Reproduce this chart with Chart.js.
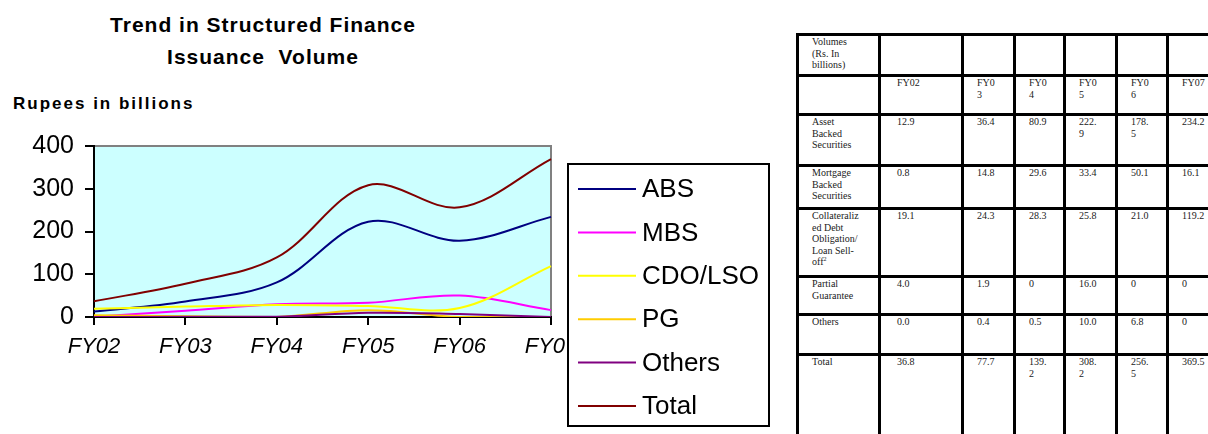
<!DOCTYPE html>
<html>
<head>
<meta charset="utf-8">
<script src="https://cdn.jsdelivr.net/npm/chart.js@4/dist/chart.umd.min.js"></script>
<style>
  html, body { margin: 0; padding: 0; background: #fff; width: 1208px; height: 434px; overflow: hidden; position: relative; }
  #title { position: absolute; left: 63px; top: 9px; width: 400px; text-align: center; font: bold 21px "Liberation Sans", Arial, sans-serif; letter-spacing: 1px; line-height: 32px; white-space: pre; color: #000; }
  #unit { position: absolute; left: 13px; top: 94px; font: bold 17px "Liberation Sans", Arial, sans-serif; letter-spacing: 2px; color: #000; }
  #chart { position: absolute; left: 0; top: 120px; }
  .cell { position: absolute; box-sizing: border-box; border: 3px solid #000; padding: 0 15px 0 13px; font: 10px "Liberation Serif", "Times New Roman", serif; line-height: 11.5px; color: #222; overflow-wrap: anywhere; overflow: hidden; }
  .cell sup { font-size: 6px; line-height: 0; }
</style>
</head>
<body>
<div id="title">Trend in Structured Finance
Issuance  Volume</div>
<div id="unit">Rupees in billions</div>
<canvas id="chart" width="790" height="314"></canvas>
<div id="table"></div>
<script>
// data, as printed in the table
const years = ['FY02', 'FY03', 'FY04', 'FY05', 'FY06', 'FY07'];
const absVals    = ['12.9', '36.4', '80.9', '222.9', '178.5', '234.2'];
const mbsVals    = ['0.8', '14.8', '29.6', '33.4', '50.1', '16.1'];
const cdoVals    = ['19.1', '24.3', '28.3', '25.8', '21.0', '119.2'];
const pgVals     = ['4.0', '1.9', '0', '16.0', '0', '0'];
const otherVals  = ['0.0', '0.4', '0.5', '10.0', '6.8', '0'];
const totalVals  = ['36.8', '77.7', '139.2', '308.2', '256.5', '369.5'];
const yTicks = [0, 100, 200, 300, 400];

const series = [
  { label: 'ABS',     values: absVals,   color: '#000080' },
  { label: 'MBS',     values: mbsVals,   color: '#FF00FF' },
  { label: 'CDO/LSO', values: cdoVals,   color: '#FFFF00' },
  { label: 'PG',      values: pgVals,    color: '#FFCC00' },
  { label: 'Others',  values: otherVals, color: '#800080' },
  { label: 'Total',   values: totalVals, color: '#800000' },
];

const rowLabels = [
  'Asset Backed Securities',
  'Mortgage Backed Securities',
  'Collateralized Debt Obligation/ Loan Sell-off<sup>2</sup>',
  'Partial Guarantee',
  'Others',
  'Total',
];
const tableRows = [absVals, mbsVals, cdoVals, pgVals, otherVals, totalVals];

// plot background + gray frame
const plotBg = {
  id: 'plotBg',
  beforeDraw(chart) {
    const { ctx, chartArea: a } = chart;
    ctx.save();
    ctx.fillStyle = '#CCFFFF';
    ctx.fillRect(a.left, a.top, a.right - a.left, a.bottom - a.top);
    ctx.strokeStyle = '#808080';
    ctx.lineWidth = 2;
    ctx.strokeRect(a.left, a.top, a.right - a.left, a.bottom - a.top);
    ctx.restore();
  }
};

// boxed legend like the spreadsheet one
const boxLegend = {
  id: 'boxLegend',
  afterDraw(chart) {
    const ctx = chart.ctx;
    const x0 = 568, y0 = 44, x1 = 769, y1 = 306;
    ctx.save();
    ctx.fillStyle = '#fff';
    ctx.fillRect(x0, y0, x1 - x0, y1 - y0);
    ctx.strokeStyle = '#000';
    ctx.lineWidth = 2;
    ctx.strokeRect(x0, y0, x1 - x0, y1 - y0);
    ctx.font = '26px "Liberation Sans", Arial, sans-serif';
    ctx.textBaseline = 'middle';
    chart.data.datasets.forEach((ds, i) => {
      const y = 69 + i * 43.4;
      ctx.strokeStyle = ds.borderColor;
      ctx.lineWidth = 2;
      ctx.beginPath();
      ctx.moveTo(578, y);
      ctx.lineTo(636, y);
      ctx.stroke();
      ctx.fillStyle = '#000';
      ctx.fillText(ds.label, 642, y + 1);
    });
    ctx.restore();
  }
};

new Chart(document.getElementById('chart'), {
  type: 'line',
  data: {
    labels: years,
    datasets: series.map((s, i) => ({
      label: s.label,
      data: s.values.map(Number),
      borderColor: s.color,
      backgroundColor: s.color,
      borderWidth: 2,
      pointRadius: 0,
      tension: 0.35,
      fill: false,
      order: series.length - i,
    })),
  },
  options: {
    responsive: false,
    devicePixelRatio: 1,
    animation: false,
    layout: { padding: { top: 21, right: 239, bottom: 67, left: 0 } },
    plugins: {
      legend: { display: false },
      tooltip: { enabled: false },
    },
    scales: {
      x: {
        offset: false,
        grid: { drawOnChartArea: false, drawTicks: true, tickLength: 8, color: '#000', lineWidth: 2 },
        border: { color: '#000', width: 2 },
        ticks: { color: '#000', padding: 9, maxRotation: 0, font: { family: '"Liberation Sans", Arial, sans-serif', size: 22, style: 'italic' } },
        afterFit(scale) { scale.height = 50; },
      },
      y: {
        min: 0,
        max: 400,
        afterBuildTicks(scale) { scale.ticks = yTicks.map(v => ({ value: v })); },
        grid: { drawOnChartArea: false, drawTicks: true, tickLength: 9, color: '#000', lineWidth: 2 },
        border: { color: '#000', width: 2 },
        ticks: { color: '#000', padding: 11, font: { family: '"Liberation Sans", Arial, sans-serif', size: 25 } },
        afterFit(scale) { scale.width = 94; },
      },
    },
  },
  plugins: [plotBg, boxLegend],
});

// data table on the right
const colX = [796, 878, 961, 1013, 1063, 1115, 1166, 1230];
const rowY = [33, 74, 113, 164, 207, 275, 313, 353, 450];
const table = document.getElementById('table');
function cell(c, r, html) {
  const d = document.createElement('div');
  d.className = 'cell';
  d.style.left = colX[c] + 'px';
  d.style.top = rowY[r] + 'px';
  d.style.width = (colX[c + 1] - colX[c] + 3) + 'px';
  d.style.height = (rowY[r + 1] - rowY[r] + 3) + 'px';
  if (c === 0) d.style.paddingRight = '17px';
  if (c === 1) d.style.paddingLeft = '16px';
  d.innerHTML = html;
  table.appendChild(d);
}
cell(0, 0, 'Volumes (Rs. In billions)');
for (let c = 1; c <= years.length; c++) cell(c, 0, '');
cell(0, 1, '');
years.forEach((y, i) => cell(i + 1, 1, y));
rowLabels.forEach((lab, r) => {
  cell(0, r + 2, lab);
  tableRows[r].forEach((v, i) => cell(i + 1, r + 2, v));
});
</script>
</body>
</html>
